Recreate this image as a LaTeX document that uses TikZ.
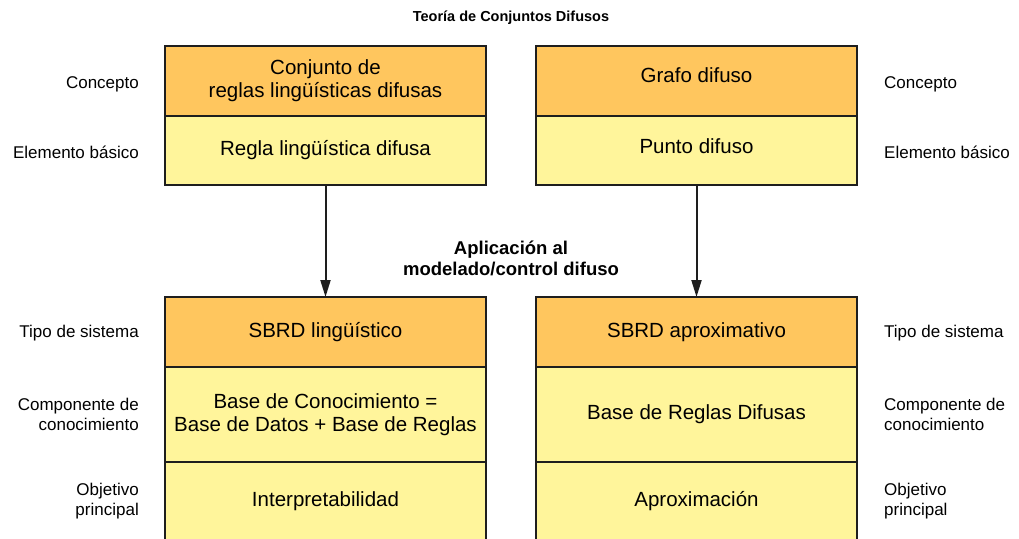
\documentclass[tikz,border=0pt]{standalone}
\usepackage{fontspec}
\setmainfont{Liberation Sans}
\usetikzlibrary{arrows.meta, positioning}
\definecolor{headorange}{HTML}{FFC65E}
\definecolor{bodyyellow}{HTML}{FFF59B}
\definecolor{edgedark}{HTML}{1E1E1E}
\tikzset{
  headcell/.style = {
    rectangle, draw=edgedark, line width=2pt,
    fill=headorange, minimum width=321pt, minimum height=70pt,
    inner sep=0pt, outer sep=0pt, align=center,
    font=\fontsize{20.5}{23}\selectfont
  },
  bodycell/.style = {headcell, fill=bodyyellow},
  rowlabel/.style = {inner sep=0pt, font=\fontsize{17}{20}\selectfont},
  boldlabel/.style = {inner sep=0pt, align=center, font=\fontsize{18.5}{21}\selectfont\bfseries},
  myarrow/.style = {-{Triangle[length=17pt, width=10pt]}, line width=2pt, draw=edgedark}
}
\begin{document}
\begin{tikzpicture}[x=1pt, y=-1pt]
  \useasboundingbox (0,0) rectangle (1019,538);
  \clip (0,0) rectangle (1019,538);

  % Titles
  \node[boldlabel, font=\fontsize{14.5}{17}\selectfont\bfseries] (title) at (511,18) {Teoría de Conjuntos Difusos};
  \node[boldlabel] (apply) at (511,258) {Aplicación al\\modelado/control difuso};

  % Top blocks
  \node[headcell] (conceptL) at (325.5,81) {Conjunto de\\reglas lingüísticas difusas};
  \node[bodycell, minimum height=69pt, below=0pt of conceptL] (basicL) {Regla lingüística difusa};
  \node[headcell, text depth=12pt] (conceptR) at (696.5,81) {Grafo difuso};
  \node[bodycell, minimum height=69pt, text depth=9pt, below=0pt of conceptR] (basicR) {Punto difuso};

  % Bottom blocks
  \node[headcell] (typeL) at (325.5,332) {SBRD lingüístico};
  \node[bodycell, minimum height=95pt, below=0pt of typeL] (knowL) {Base de Conocimiento =\\Base de Datos + Base de Reglas};
  \node[bodycell, minimum height=78pt, below=0pt of knowL] (goalL) {Interpretabilidad};
  \node[headcell] (typeR) at (696.5,332) {SBRD aproximativo};
  \node[bodycell, minimum height=95pt, below=0pt of typeR] (knowR) {Base de Reglas Difusas};
  \node[bodycell, minimum height=78pt, below=0pt of knowR] (goalR) {Aproximación};

  % Arrows
  \draw[myarrow] (basicL) -- (typeL);
  \draw[myarrow] (basicR) -- (typeR);

  % Row labels, left
  \node[rowlabel, align=right, left=26pt of conceptL, yshift=-3pt] (lblConceptL) {Concepto};
  \node[rowlabel, align=right, left=26pt of basicL, yshift=-2pt] (lblBasicL) {Elemento básico};
  \node[rowlabel, align=right, left=26pt of typeL, yshift=-1pt] (lblTypeL) {Tipo de sistema};
  \node[rowlabel, align=right, left=26pt of knowL] (lblKnowL) {Componente de\\conocimiento};
  \node[rowlabel, align=right, left=26pt of goalL] (lblGoalL) {Objetivo\\principal};

  % Row labels, right
  \node[rowlabel, align=left, right=27pt of conceptR, yshift=-3pt] (lblConceptR) {Concepto};
  \node[rowlabel, align=left, right=27pt of basicR, yshift=-2pt] (lblBasicR) {Elemento básico};
  \node[rowlabel, align=left, right=27pt of typeR, yshift=-1pt] (lblTypeR) {Tipo de sistema};
  \node[rowlabel, align=left, right=27pt of knowR] (lblKnowR) {Componente de\\conocimiento};
  \node[rowlabel, align=left, right=27pt of goalR] (lblGoalR) {Objetivo\\principal};
\end{tikzpicture}
\end{document}
